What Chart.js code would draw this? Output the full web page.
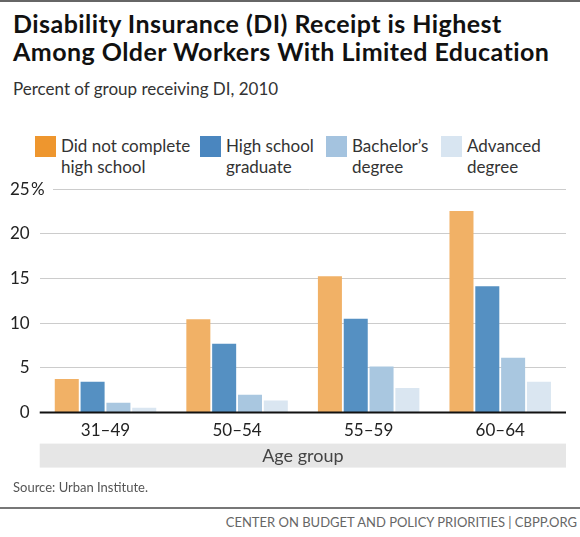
<!DOCTYPE html>
<html>
<head>
<meta charset="utf-8">
<script src="https://cdn.jsdelivr.net/npm/chart.js@4.4.1/dist/chart.umd.min.js"></script>
<style>
  html, body { margin: 0; padding: 0; background: #fff; }
  body { width: 580px; height: 537px; position: relative; overflow: hidden; font-family: Lato, "Open Sans", sans-serif; color: #222; }
  #topline { position: absolute; left: 0; top: 0; width: 580px; height: 2px; background: #666; }
  #title { position: absolute; left: 13px; top: 9px; font-size: 25px; font-weight: 700; line-height: 28px; letter-spacing: 0.45px; color: #111; }
  #subtitle { position: absolute; left: 13px; top: 78px; font-size: 17px; color: #333; }
  #legend { position: absolute; left: 0; top: 136px; width: 580px; height: 44px; }
  .item { position: absolute; top: 0; }
  .sw { position: absolute; left: 0; top: 0; width: 21px; height: 21px; }
  .lt { position: absolute; left: 26px; top: -1px; font-size: 17px; line-height: 21px; color: #333; white-space: nowrap; }
  #wrap { position: absolute; left: 0; top: 169px; width: 580px; height: 311px; }
  #source { position: absolute; left: 13px; top: 479px; font-size: 13px; color: #555; }
  #footline { position: absolute; left: 0; top: 507px; width: 580px; height: 2px; background: #777; }
  #footer { position: absolute; right: 3px; top: 514px; font-size: 13px; color: #666; }
</style>
</head>
<body>
<div id="topline"></div>
<div id="title">Disability Insurance (DI) Receipt is Highest<br>Among Older Workers With Limited Education</div>
<div id="subtitle">Percent of group receiving DI, 2010</div>
<div id="legend"></div>
<div id="wrap"><canvas id="grafico"></canvas></div>
<div id="source">Source: Urban Institute.</div>
<div id="footline"></div>
<div id="footer">CENTER ON BUDGET AND POLICY PRIORITIES | CBPP.ORG</div>
<script>
var faixas = ['31\u201349', '50\u201354', '55\u201359', '60\u201364'];
var semMedio = [3.75, 10.45, 15.25, 22.55];
var medio = [3.45, 7.7, 10.5, 14.15];
var bacharel = [1.1, 2.0, 5.15, 6.15];
var avancado = [0.55, 1.35, 2.75, 3.45];
var ticksY = [0, 5, 10, 15, 20, 25];

var nomes = [['Did not complete', 'high school'], ['High school', 'graduate'], ['Bachelor\u2019s', 'degree'], ['Advanced', 'degree']];
var coresBarra = ['#f1b166', '#5590c2', '#a9c7e0', '#dae6f1'];
var coresLegenda = ['#ee962e', '#4a86bf', '#a4c3df', '#d8e5f1'];
var posLegenda = [35, 200, 326, 441];

// legenda feita em html por causa das duas linhas
var leg = document.getElementById('legend');
nomes.forEach(function (n, i) {
    var d = document.createElement('div');
    d.className = 'item';
    d.style.left = posLegenda[i] + 'px';
    d.innerHTML = '<div class="sw" style="background:' + coresLegenda[i] + '"></div><div class="lt">' + n[0] + '<br>' + n[1] + '</div>';
    leg.appendChild(d);
});

var extras = {
    id: 'extras',
    beforeDatasetsDraw: function (chart) {
        var ctx = chart.ctx, a = chart.chartArea, y = chart.scales.y;
        // linha do 25% comeca depois do simbolo
        var y25 = Math.round(y.getPixelForValue(25)) + 0.5;
        ctx.save();
        ctx.strokeStyle = '#cccccc';
        ctx.lineWidth = 1;
        ctx.beginPath();
        ctx.moveTo(53, y25);
        ctx.lineTo(a.right, y25);
        ctx.stroke();
        ctx.restore();
    },
    afterDraw: function (chart) {
        var ctx = chart.ctx, a = chart.chartArea, y = chart.scales.y;
        ctx.save();
        ctx.font = '17px Lato';
        ctx.fillStyle = '#222';
        ctx.textBaseline = 'middle';
        ctx.textAlign = 'left';
        ctx.fillText('%', 31, y.getPixelForValue(25));
        // eixo zero
        var y0 = y.getPixelForValue(0);
        ctx.strokeStyle = '#111';
        ctx.lineWidth = 2;
        ctx.beginPath();
        ctx.moveTo(a.left, y0);
        ctx.lineTo(a.right, y0);
        ctx.stroke();
        // faixa "Age group"
        ctx.fillStyle = '#e6e6e6';
        ctx.fillRect(a.left, y0 + 31, a.right - a.left, 24);
        ctx.fillStyle = '#444';
        ctx.font = '18px Lato';
        ctx.textAlign = 'center';
        ctx.fillText('Age group', (a.left + a.right) / 2, y0 + 43.5);
        ctx.restore();
    }
};

function dataset(nome, valores, i) {
    return {
        label: nome.join(' '),
        data: valores,
        backgroundColor: coresBarra[i],
        borderWidth: 0,
        categoryPercentage: 0.785,
        barPercentage: 0.93
    };
}

new Chart(document.getElementById('grafico'), {
    type: 'bar',
    data: {
        labels: faixas,
        datasets: [
            dataset(nomes[0], semMedio, 0),
            dataset(nomes[1], medio, 1),
            dataset(nomes[2], bacharel, 2),
            dataset(nomes[3], avancado, 3)
        ]
    },
    options: {
        responsive: true,
        maintainAspectRatio: false,
        animation: false,
        layout: { padding: { top: 6, right: 14, bottom: 31, left: 0 } },
        plugins: {
            legend: { display: false },
            tooltip: { enabled: false }
        },
        scales: {
            x: {
                grid: { display: false, drawTicks: false },
                border: { display: false },
                ticks: { color: '#222', font: { family: 'Lato', size: 17 }, padding: 8 }
            },
            y: {
                min: 0,
                max: 25,
                afterBuildTicks: function (s) { s.ticks = ticksY.map(function (v) { return { value: v }; }); },
                grid: {
                    drawTicks: false,
                    color: function (c) { return c.tick && c.tick.value === 25 ? 'rgba(0,0,0,0)' : '#cccccc'; }
                },
                border: { display: false },
                ticks: { color: '#222', font: { family: 'Lato', size: 17 }, padding: 10 }
            }
        }
    },
    plugins: [extras]
});
</script>
</body>
</html>
